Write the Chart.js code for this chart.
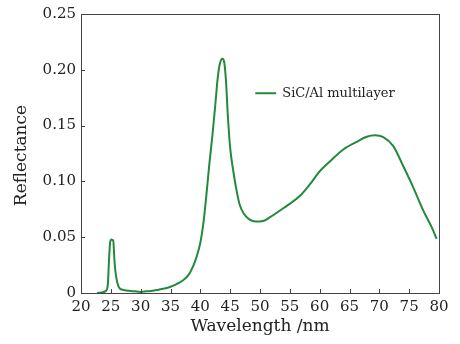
<!DOCTYPE html>
<html>
<head>
<meta charset="utf-8">
<script src="https://cdn.jsdelivr.net/npm/chart.js@4/dist/chart.umd.min.js"></script>
<style>
html,body{margin:0;padding:0;background:#fff;}
#wrap{width:460px;height:344px;position:relative;}
</style>
</head>
<body>
<div id="wrap"><canvas id="c" width="460" height="344"></canvas></div>
<script>
const seriesLabel = "SiC/Al multilayer";
const xTitle = "Wavelength /nm";
const yTitle = "Reflectance";
const xTicks = [20,25,30,35,40,45,50,55,60,65,70,75,80];
const yTicks = [0,0.05,0.10,0.15,0.20,0.25];
const wavelength = [22.7,23.5,24.2,24.5,24.7,24.9,25.1,25.4,25.6,25.8,
  26.1,26.5,27,28,29,30,31,32,33,34,
  35,36,37,38,38.8,39.4,40,40.5,41.0,41.5,
  42.0,42.5,42.9,43.3,43.7,44.0,44.3,44.6,45.0,45.5,
  46.0,46.6,47.3,48.2,49.3,50.5,51.67,53.9,56.7,58.38,
  60.05,61.73,63.96,66.2,67.88,69.27,70.66,72.34,74.0,75.7,
  77.37,78.77,79.6];
const reflectance = [0,0.0005,0.002,0.008,0.03,0.046,0.048,0.047,0.03,0.018,
  0.009,0.004,0.003,0.002,0.0015,0.001,0.0015,0.002,0.003,0.004,
  0.0056,0.008,0.011,0.016,0.024,0.033,0.045,0.062,0.087,0.115,
  0.140,0.168,0.192,0.206,0.210,0.207,0.190,0.160,0.130,0.110,
  0.094,0.079,0.071,0.066,0.064,0.0645,0.0679,0.0759,0.0871,0.0975,
  0.1093,0.118,0.1286,0.1354,0.140,0.1413,0.1396,0.1316,0.1138,0.0945,
  0.0738,0.059,0.0486];

const lineColor = '#238a3c';
const textColor = '#222';
const serif = '"DejaVu Serif", serif';

const framePlugin = {
  id: 'frame',
  afterDraw(chart) {
    const ctx = chart.ctx, a = chart.chartArea;
    const xs = chart.scales.x, ys = chart.scales.y;
    ctx.save();
    ctx.strokeStyle = '#444';
    ctx.lineWidth = 1;
    ctx.strokeRect(Math.round(a.left)+0.5, Math.round(a.top)+0.5, Math.round(a.right-a.left), Math.round(a.bottom-a.top));
    ctx.beginPath();
    xs.ticks.forEach(t => {
      const px = Math.round(xs.getPixelForValue(t.value)) + 0.5;
      ctx.moveTo(px, a.bottom); ctx.lineTo(px, a.bottom - 4);
    });
    ys.ticks.forEach(t => {
      const py = Math.round(ys.getPixelForValue(t.value)) + 0.5;
      ctx.moveTo(a.left, py); ctx.lineTo(a.left + 4, py);
    });
    ctx.stroke();
    // axis titles
    ctx.fillStyle = textColor;
    ctx.font = '17px ' + serif;
    ctx.textAlign = 'center';
    ctx.textBaseline = 'middle';
    ctx.fillText(xTitle, (a.left + a.right) / 2, 327);
    ctx.save();
    ctx.translate(22, (a.top + a.bottom) / 2 + 2);
    ctx.rotate(-Math.PI / 2);
    ctx.fillText(yTitle, 0, 0);
    ctx.restore();
    // legend
    const ds = chart.data.datasets[0];
    const lx = xs.getPixelForValue(49.2), ly = ys.getPixelForValue(0.179);
    ctx.strokeStyle = ds.borderColor;
    ctx.lineWidth = 2;
    ctx.beginPath();
    ctx.moveTo(lx, ly); ctx.lineTo(lx + 21, ly);
    ctx.stroke();
    ctx.font = '13px ' + serif;
    ctx.textAlign = 'left';
    ctx.fillText(ds.label, lx + 27, ly);
    ctx.restore();
  }
};

new Chart(document.getElementById('c'), {
  type: 'line',
  data: {
    datasets: [{
      label: seriesLabel,
      data: wavelength.map((w, i) => ({x: w, y: reflectance[i]})),
      borderColor: lineColor,
      borderWidth: 2,
      pointRadius: 0,
      fill: false,
      cubicInterpolationMode: 'monotone'
    }]
  },
  options: {
    responsive: false,
    animation: false,
    devicePixelRatio: 1,
    layout: {padding: {top: 13, right: 21, left: 0, bottom: 0}},
    plugins: {legend: {display: false}, tooltip: {enabled: false}},
    scales: {
      x: {
        type: 'linear', min: 20, max: 80,
        afterBuildTicks: s => { s.ticks = xTicks.map(v => ({value: v})); },
        afterFit: s => { s.height = 51; },
        grid: {display: false, drawTicks: false},
        border: {display: false},
        ticks: {padding: 5, color: textColor, font: {family: serif, size: 15}, maxRotation: 0, autoSkip: false}
      },
      y: {
        type: 'linear', min: 0, max: 0.25,
        afterBuildTicks: s => { s.ticks = yTicks.map(v => ({value: v})); },
        afterFit: s => { s.width = 81; },
        grid: {display: false, drawTicks: false},
        border: {display: false},
        ticks: {padding: 5, color: textColor, font: {family: serif, size: 15},
          callback: v => v === 0 ? '0' : v.toFixed(2)}
      }
    }
  },
  plugins: [framePlugin]
});
</script>
</body>
</html>
